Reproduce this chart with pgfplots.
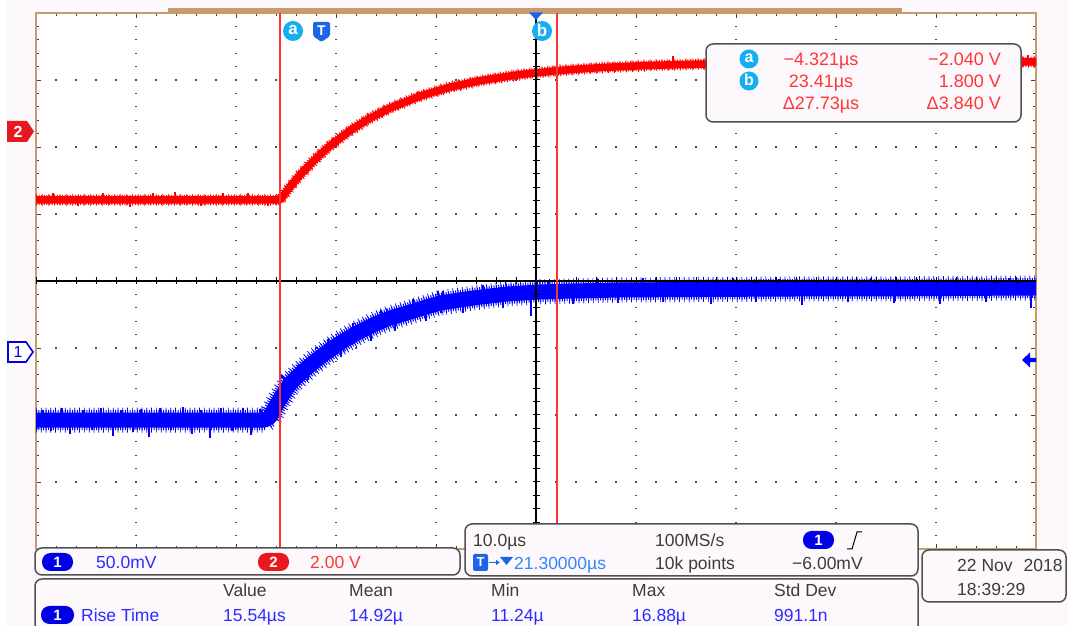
\documentclass[border=0pt]{standalone}
\usepackage{pgfplots}
\pgfplotsset{compat=1.18}
\usetikzlibrary{arrows.meta}
\usepackage{fontspec}
\setmainfont{Liberation Sans}
\definecolor{bg}{RGB}{252,248,252}
\definecolor{frame}{RGB}{200,155,110}
\definecolor{trblue}{RGB}{0,0,255}
\definecolor{trred}{RGB}{255,0,0}
\definecolor{curred}{RGB}{255,50,50}
\definecolor{txtred}{RGB}{255,55,55}
\definecolor{txtblue}{RGB}{45,45,255}
\definecolor{ltblue}{RGB}{50,135,255}
\definecolor{cyanb}{RGB}{20,175,240}
\definecolor{tblue}{RGB}{30,100,230}
\definecolor{boxgray}{RGB}{80,80,80}
\definecolor{txtgray}{RGB}{60,60,60}
\definecolor{pillblue}{RGB}{0,0,230}
\definecolor{pillred}{RGB}{232,25,30}
\newcommand\fs[1]{\fontsize{#1}{#1}\selectfont}

% Channel 2 (red), in screen divisions
\pgfplotstableread{
t y
-28.7 1.209
-4.3 1.209
-3.3 1.404
-2.3 1.582
-0.8 1.816
0.7 2.019
2.7 2.245
4.7 2.431
6.7 2.582
9.7 2.760
12.7 2.893
15.7 2.990
19.7 3.082
23.7 3.143
27.7 3.185
32.7 3.218
37.7 3.237
45.7 3.252
55.7 3.264
71.3 3.269
}\redtrace
% Channel 1 (blue), in screen divisions
\pgfplotstableread{
t y
-28.7 -2.075
-5.8 -2.075
-5.3 -2.03
-5.0 -1.94
-4.3 -1.76
-3.3 -1.53
-2.3 -1.39
-1.3 -1.255
0 -1.105
1.7 -0.925
3.4 -0.776
5.0 -0.657
6.7 -0.552
8.4 -0.478
10 -0.403
11.7 -0.328
15 -0.254
18.4 -0.194
21.7 -0.164
25 -0.149
29.7 -0.134
37.7 -0.127
47.7 -0.119
57.7 -0.117
71.3 -0.104
}\bluetrace

\begin{document}
\begin{tikzpicture}
\useasboundingbox (0,0) rectangle (1068pt,626pt);
\fill[bg] (0,0) rectangle (1068pt,626pt);
\fill[white] (0,0) rectangle (7pt,626pt);
\begin{axis}[
  at={(36pt,77pt)}, anchor=south west,
  width=1000pt, height=536pt, scale only axis,
  xmin=-28.7, xmax=71.3, ymin=-4, ymax=4,
  axis background/.style={fill=white},
  axis line style={draw=frame, line width=1.6pt},
  xtick={-28.7,-18.7,-8.7,1.3,11.3,21.3,31.3,41.3,51.3,61.3,71.3},
  ytick={-4,-3,-2,-1,0,1,2,3,4},
  minor x tick num=4, minor y tick num=4,
  xticklabels={}, yticklabels={},
  tick align=inside, tick pos=both,
  major tick length=5pt, minor tick length=3pt,
  tick style={black!75, line width=0.9pt},
  grid=major,
  x grid style={black!70, line width=1.3pt, dash pattern=on 1.3pt off 12.1pt, dash phase=0.65pt},
  y grid style={black!70, line width=1.3pt, dash pattern=on 1.3pt off 18.7pt, dash phase=0.65pt},
  clip=true,
]
% red trace
\addplot[trred, line width=12pt, dash pattern=on 0.7pt off 5.3pt, line join=round] table[x=t,y=y] {\redtrace};
\addplot[trred, line width=10pt, dash pattern=on 1pt off 1.6pt, line join=round] table[x=t,y=y] {\redtrace};
\addplot[trred, line width=7.5pt, line join=round] table[x=t,y=y] {\redtrace};
\addplot[trred, line width=1.2pt, unbounded coords=jump] coordinates {
(-27.0,1.21) (-27.0,1.31) (-27.0,nan)
(-24.5,1.21) (-24.5,1.12) (-24.5,nan)
(-22.0,1.21) (-22.0,1.32) (-22.0,nan)
(-19.3,1.21) (-19.3,1.11) (-19.3,nan)
(-17.0,1.21) (-17.0,1.31) (-17.0,nan)
(-14.8,1.21) (-14.8,1.33) (-14.8,nan)
(-12.2,1.21) (-12.2,1.12) (-12.2,nan)
(-10.0,1.21) (-10.0,1.31) (-10.0,nan)
(-7.5,1.21) (-7.5,1.32) (-7.5,nan)
(-5.5,1.21) (-5.5,1.12) (-5.5,nan)
(35.0,3.23) (35.0,3.36) (35.0,nan)
(40.0,3.24) (40.0,3.37) (40.0,nan)
(44.0,3.25) (44.0,3.15) (44.0,nan)
(48.0,3.25) (48.0,3.37) (48.0,nan)
(52.0,3.26) (52.0,3.36) (52.0,nan)
(56.0,3.26) (56.0,3.16) (56.0,nan)
(60.0,3.26) (60.0,3.38) (60.0,nan)
(64.0,3.27) (64.0,3.37) (64.0,nan)
(67.0,3.27) (67.0,3.16) (67.0,nan)
(70.5,3.27) (70.5,3.37) (70.5,nan)
};
% blue trace
\addplot[trblue, line width=25pt, dash pattern=on 0.7pt off 4.1pt, line join=round] table[x=t,y=y] {\bluetrace};
\addplot[trblue, line width=20pt, dash pattern=on 1pt off 1.4pt, line join=round] table[x=t,y=y] {\bluetrace};
\addplot[trblue, line width=15pt, line join=round] table[x=t,y=y] {\bluetrace};
\addplot[trblue, line width=1.2pt, unbounded coords=jump] coordinates {
(-28.0,-2.07) (-28.0,-1.93) (-28.0,nan)
(-27.2,-2.07) (-27.2,-2.24) (-27.2,nan)
(-26.1,-2.07) (-26.1,-1.90) (-26.1,nan)
(-25.3,-2.07) (-25.3,-2.29) (-25.3,nan)
(-24.0,-2.07) (-24.0,-1.92) (-24.0,nan)
(-23.1,-2.07) (-23.1,-2.22) (-23.1,nan)
(-22.2,-2.07) (-22.2,-1.89) (-22.2,nan)
(-21.0,-2.07) (-21.0,-2.31) (-21.0,nan)
(-20.1,-2.07) (-20.1,-1.93) (-20.1,nan)
(-19.0,-2.07) (-19.0,-2.25) (-19.0,nan)
(-18.2,-2.07) (-18.2,-1.91) (-18.2,nan)
(-17.4,-2.07) (-17.4,-2.33) (-17.4,nan)
(-16.3,-2.07) (-16.3,-1.90) (-16.3,nan)
(-15.2,-2.07) (-15.2,-2.23) (-15.2,nan)
(-14.0,-2.07) (-14.0,-1.88) (-14.0,nan)
(-13.1,-2.07) (-13.1,-2.28) (-13.1,nan)
(-12.2,-2.07) (-12.2,-1.92) (-12.2,nan)
(-11.3,-2.07) (-11.3,-2.35) (-11.3,nan)
(-10.2,-2.07) (-10.2,-1.90) (-10.2,nan)
(-9.1,-2.07) (-9.1,-2.24) (-9.1,nan)
(-8.0,-2.07) (-8.0,-1.89) (-8.0,nan)
(-7.2,-2.07) (-7.2,-2.30) (-7.2,nan)
(-6.3,-2.07) (-6.3,-1.91) (-6.3,nan)
(-4.0,-1.69) (-4.0,-1.86) (-4.0,nan)
(-2.5,-1.42) (-2.5,-1.25) (-2.5,nan)
(-1.5,-1.28) (-1.5,-1.48) (-1.5,nan)
(0.5,-1.05) (0.5,-0.86) (0.5,nan)
(1.8,-0.92) (1.8,-1.13) (1.8,nan)
(3.0,-0.81) (3.0,-0.62) (3.0,nan)
(4.8,-0.67) (4.8,-0.90) (4.8,nan)
(5.8,-0.61) (5.8,-0.43) (5.8,nan)
(7.2,-0.53) (7.2,-0.75) (7.2,nan)
(9.0,-0.45) (9.0,-0.27) (9.0,nan)
(10.3,-0.39) (10.3,-0.60) (10.3,nan)
(12.0,-0.32) (12.0,-0.15) (12.0,nan)
(14.0,-0.28) (14.0,-0.48) (14.0,nan)
(16.0,-0.24) (16.0,-0.06) (16.0,nan)
(18.0,-0.20) (18.0,-0.40) (18.0,nan)
(20.8,-0.17) (20.8,-0.52) (20.8,nan)
(22.6,-0.16) (22.6,0.02) (22.6,nan)
(25.0,-0.15) (25.0,-0.35) (25.0,nan)
(27.5,-0.14) (27.5,0.03) (27.5,nan)
(29.5,-0.13) (29.5,-0.33) (29.5,nan)
(32.0,-0.13) (32.0,0.04) (32.0,nan)
(34.0,-0.13) (34.0,-0.32) (34.0,nan)
(36.5,-0.13) (36.5,0.02) (36.5,nan)
(38.8,-0.13) (38.8,-0.34) (38.8,nan)
(41.0,-0.12) (41.0,0.05) (41.0,nan)
(43.3,-0.12) (43.3,-0.31) (43.3,nan)
(45.6,-0.12) (45.6,0.03) (45.6,nan)
(47.9,-0.12) (47.9,-0.36) (47.9,nan)
(50.2,-0.12) (50.2,0.02) (50.2,nan)
(52.5,-0.12) (52.5,-0.32) (52.5,nan)
(54.8,-0.12) (54.8,0.04) (54.8,nan)
(57.1,-0.12) (57.1,-0.33) (57.1,nan)
(59.4,-0.11) (59.4,0.03) (59.4,nan)
(61.7,-0.11) (61.7,-0.35) (61.7,nan)
(64.0,-0.11) (64.0,0.02) (64.0,nan)
(66.3,-0.11) (66.3,-0.31) (66.3,nan)
(68.6,-0.11) (68.6,0.04) (68.6,nan)
(70.8,-0.11) (70.8,-0.40) (70.8,nan)
};
% centre crosshair
\draw[black, line width=1.3pt] (axis cs:21.3,-4) -- (axis cs:21.3,4);
\draw[black, line width=1.3pt] (axis cs:-28.7,0) -- (axis cs:71.3,0);
\draw[black, line width=7pt, dash pattern=on 1pt off 19pt, dash phase=0.5pt] (axis cs:-28.7,0) -- (axis cs:71.3,0);
\draw[black, line width=7pt, dash pattern=on 1pt off 12.4pt, dash phase=0.5pt] (axis cs:21.3,-4) -- (axis cs:21.3,4);
% cursors
\addplot[curred, line width=1.6pt] coordinates {(-4.321,-4) (-4.321,4)};
\addplot[curred, line width=1.6pt] coordinates {(23.41,-4) (23.41,4)};
\end{axis}

\begin{scope}[x=1pt, y=-1pt, shift={(0,626pt)}]
% top record bar
\fill[frame] (168,8.5) rectangle (902,12);
% cursor / trigger markers
\fill[cyanb] (293,31) circle (10);
\node[white, font=\fs{17}\bfseries, inner sep=0] at (293,30) {a};
\fill[tblue, rounded corners=1.5pt] (313,22) -- (330,22) -- (330,36) -- (321.5,42) -- (313,36) -- cycle;
\node[white, font=\fs{14}\bfseries, inner sep=0] at (321.5,31) {T};
\fill[tblue] (529,12.5) -- (543,12.5) -- (536,20) -- cycle;
\fill[cyanb] (542,31) circle (10);
\node[white, font=\fs{17}\bfseries, inner sep=0] at (542,30) {b};
% channel markers
\fill[pillred] (7,121) -- (27,121) -- (34,131.5) -- (27,142) -- (7,142) -- cycle;
\node[white, font=\fs{16}\bfseries, inner sep=0] at (18,131.5) {2};
\draw[pillblue, line width=1.6pt, fill=white] (8,342) -- (26,342) -- (33,352) -- (26,362) -- (8,362) -- cycle;
\node[pillblue, font=\fs{16}, inner sep=0] at (18,352) {1};
% trigger level arrow
\fill[trblue] (1022,360) -- (1030,352.5) -- (1030,357.8) -- (1036,357.8) -- (1036,362.2) -- (1030,362.2) -- (1030,367.5) -- cycle;

% cursor readout
\draw[boxgray, line width=1.5pt, fill=bg, rounded corners=7pt] (706,44) rectangle (1021,122);
\fill[cyanb] (749,59) circle (9.5);
\node[white, font=\fs{16}\bfseries, inner sep=0] at (749,58) {a};
\fill[cyanb] (749,81) circle (9.5);
\node[white, font=\fs{16}\bfseries, inner sep=0] at (749,80) {b};
\begin{scope}[every node/.style={inner sep=0, font=\fs{18}, text=txtred}]
\node[anchor=base] at (821,65.5) {−4.321µs};
\node[anchor=base] at (821,87.5) {23.41µs};
\node[anchor=base] at (821,109.5) {Δ27.73µs};
\node[anchor=base east] at (1001,65.5) {−2.040 V};
\node[anchor=base east] at (1001,87.5) {1.800 V};
\node[anchor=base east] at (1001,109.5) {Δ3.840 V};
\end{scope}

% bottom boxes
\draw[boxgray, line width=1.5pt, fill=bg, rounded corners=7pt] (35,548) rectangle (460,575);
\draw[boxgray, line width=1.5pt, fill=bg, rounded corners=7pt] (465,524) rectangle (918,576);
\draw[boxgray, line width=1.5pt, fill=bg, rounded corners=7pt] (35,579) rectangle (918,645);
\draw[boxgray, line width=1.5pt, fill=bg, rounded corners=7pt] (922,550) rectangle (1066,602);

\begin{scope}[every node/.style={inner sep=0, font=\fs{17.5}}]
% channel box
\fill[pillblue, rounded corners=8.5pt] (42,553) rectangle (73,571);
\node[white, font=\fs{15}\bfseries] at (57.5,562) {1};
\node[anchor=base west, text=txtblue] at (96,568.5) {50.0mV};
\fill[pillred, rounded corners=8.5pt] (258,553) rectangle (289,571);
\node[white, font=\fs{15}\bfseries] at (273.5,562) {2};
\node[anchor=base west, text=txtred] at (310,568.5) {2.00 V};
% timebase box
\node[anchor=base west, text=txtgray] at (473,546.5) {10.0µs};
\node[anchor=base west, text=txtgray] at (655,546.5) {100MS/s};
\fill[pillblue, rounded corners=8.5pt] (803,531) rectangle (834,549);
\node[white, font=\fs{15}\bfseries] at (818.5,540) {1};
\draw[black, line width=1pt] (847,549) -- (852,549) -- (857,532) -- (862,532);
\fill[tblue, rounded corners=2pt] (473,554) rectangle (488,571);
\node[white, font=\fs{13}\bfseries] at (480.5,562.5) {T};
\draw[tblue, line width=1.6pt, -{Latex[length=4pt,width=6pt]}] (489,562.5) -- (500,562.5);
\fill[tblue] (500,557) -- (513,557) -- (506.5,565) -- cycle;
\node[anchor=base west, text=ltblue] at (514,569.5) {21.30000µs};
\node[anchor=base west, text=txtgray] at (655,569.5) {10k points};
\node[anchor=base west, text=txtgray] at (792,569.5) {−6.00mV};
% date box
\node[anchor=base west, text=txtgray] at (957,571.5) {22 Nov\hspace{11pt}2018};
\node[anchor=base west, text=txtgray] at (957,595.5) {18:39:29};
% measurement box
\node[anchor=base west, text=txtgray] at (223,596.5) {Value};
\node[anchor=base west, text=txtgray] at (349,596.5) {Mean};
\node[anchor=base west, text=txtgray] at (491,596.5) {Min};
\node[anchor=base west, text=txtgray] at (632,596.5) {Max};
\node[anchor=base west, text=txtgray] at (774,596.5) {Std Dev};
\fill[pillblue, rounded corners=8.5pt] (41,606) rectangle (74,624);
\node[white, font=\fs{15}\bfseries] at (57.5,615) {1};
\node[anchor=base west, text=txtblue] at (81,621.5) {Rise Time};
\node[anchor=base west, text=txtblue] at (223,621.5) {15.54µs};
\node[anchor=base west, text=txtblue] at (349,621.5) {14.92µ};
\node[anchor=base west, text=txtblue] at (491,621.5) {11.24µ};
\node[anchor=base west, text=txtblue] at (632,621.5) {16.88µ};
\node[anchor=base west, text=txtblue] at (774,621.5) {991.1n};
\end{scope}
\end{scope}
\end{tikzpicture}
\end{document}
